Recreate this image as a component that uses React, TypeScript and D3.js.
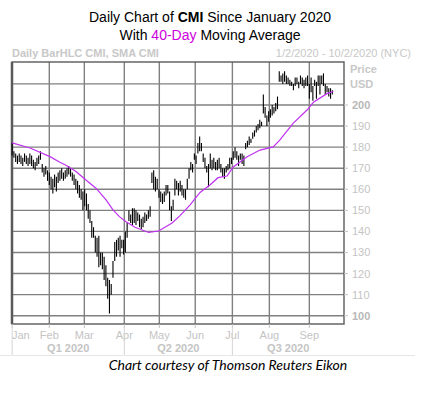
import { useEffect, useRef } from "react"
import * as d3 from "d3"

// high / low of each daily bar, trading-day index 0 = 1/2/2020
const highs = [
  182, 178, 177, 176, 177, 176, 175, 177, 176, 175, 177, 176, 174, 173, 175, 176, 178, 172, 170, 171,
  169, 168, 166, 165, 167, 166, 168, 169, 170, 168, 169, 170, 171, 170, 168, 167, 165, 164, 162, 160,
  159, 160, 158, 153, 150, 145, 142, 138, 137, 138, 130, 130, 128, 124, 118, 117, 115, 126, 135, 136,
  137, 138, 136, 136, 140, 144, 150, 148, 151, 151, 150, 149, 148, 146, 147, 149, 148, 150, 152, 168,
  169, 166, 165, 160, 159, 158, 159, 162, 162, 159, 152, 155, 165, 164, 163, 164, 162, 160, 160, 165,
  170, 173, 172, 177, 176, 182, 185, 182, 177, 175, 171, 172, 177, 174, 175, 173, 174, 175, 172, 170,
  170, 171, 172, 175, 175, 178, 180, 178, 176, 177, 177, 176, 182, 183, 185, 184, 187, 188, 190, 191,
  193, 192, 205, 199, 195, 197, 198, 200, 199, 201, 204, 216, 214, 215, 216, 214, 213, 212, 211, 210,
  213, 213, 211, 214, 213, 212, 213, 214, 210, 213, 209, 212, 211, 214, 214, 214, 215, 210, 209, 208,
  208, 207,
]
const lows = [
  176, 175, 173, 172, 173, 172, 171, 173, 172, 171, 172, 171, 170, 169, 171, 172, 174, 168, 166, 167,
  164, 162, 160, 158, 161, 159, 163, 164, 165, 164, 165, 166, 167, 166, 164, 162, 160, 158, 156, 155,
  150, 152, 150, 146, 144, 137, 137, 130, 128, 123, 124, 122, 117, 114, 108, 101, 110, 118, 126, 128,
  131, 128, 132, 129, 130, 137, 145, 144, 143, 144, 143, 145, 142, 141, 142, 144, 145, 146, 147, 163,
  160, 159, 160, 156, 154, 153, 154, 157, 158, 150, 145, 150, 157, 160, 157, 159, 157, 156, 155, 160,
  165, 169, 168, 174, 172, 177, 178, 178, 173, 170, 168, 161, 170, 169, 170, 169, 169, 170, 168, 166,
  165, 168, 169, 170, 172, 174, 175, 174, 171, 174, 172, 171, 179, 180, 181, 182, 184, 185, 187, 188,
  189, 190, 196, 194, 190, 192, 194, 195, 196, 197, 198, 211, 211, 210, 211, 210, 210, 209, 209, 207,
  209, 210, 208, 210, 209, 208, 209, 209, 203, 206, 202, 209, 203, 209, 205, 210, 209, 205, 206, 204,
  203, 205,
]

// 40-day SMA: [trading-day index, value]
const smaPoints: [number, number][] = [
  [0, 182], [10.1, 179.6], [21.4, 175.5], [27, 172.8], [30.4, 171.4], [36.1, 168.4], [41.7, 164.4],
  [47.4, 160.5], [53.1, 155], [56.8, 150.5], [60.6, 147], [64.4, 144.6], [69.4, 142], [77.2, 139.5],
  [82.8, 140.2], [90.4, 144], [94.9, 147.5], [100.5, 152.5], [106.2, 158.5], [111.8, 162],
  [116.4, 165.5], [121.5, 166.3], [124.8, 170.5], [132.6, 175.3], [140.1, 178.6], [147.6, 180.1],
  [151.4, 183.4], [158.8, 191.3], [166.7, 197.6], [170.3, 201.3], [178.2, 205.5], [181.6, 206.4],
]

const monthLabels = ["Jan", "Feb", "Mar", "Apr", "May", "Jun", "Jul", "Aug", "Sep"]
const monthTicks = [0, 21, 40.8, 63.4, 83.2, 103.5, 124.5, 145.4, 168]
const quarterLabels = ["Q1 2020", "Q2 2020", "Q3 2020"]
const quarterStarts = [0, 63.4, 124.5]
const priceTicks = [100, 110, 120, 130, 140, 150, 160, 170, 180, 190, 200, 210]
const boldTicks = [100, 200]

export default function App() {
  const svgRef = useRef<SVGSVGElement>(null)

  useEffect(() => {
    if (!svgRef.current) return
    const svg = d3.select(svgRef.current)
    svg.selectAll("*").remove()

    const left = 12
    const right = 344
    const top = 62
    const bottom = 324
    const axisGray = "#c4c4c4"
    const font = "'Liberation Sans', Arial, sans-serif"

    const x = d3.scaleLinear().domain([-0.085, 187.6]).range([left, right])
    const y = d3.scaleLinear().domain([96.06, 220.4]).range([bottom, top])

    // titles
    const t1 = svg.append("text").attr("x", 210).attr("y", 22).attr("text-anchor", "middle")
      .style("font-family", font).style("font-size", "14px").attr("fill", "#000")
    t1.append("tspan").text("Daily Chart of ")
    t1.append("tspan").attr("font-weight", "bold").text("CMI")
    t1.append("tspan").text(" Since January 2020")

    const t2 = svg.append("text").attr("x", 210).attr("y", 40).attr("text-anchor", "middle")
      .style("font-family", font).style("font-size", "14px").attr("fill", "#000")
    t2.append("tspan").text("With ")
    t2.append("tspan").attr("fill", "#cc00dd").text("40-Day")
    t2.append("tspan").text(" Moving Average")

    svg.append("text").attr("x", left).attr("y", 57)
      .style("font-family", font).style("font-size", "11px").style("font-weight", "bold")
      .attr("fill", "#c8c8c8").text("Daily BarHLC CMI, SMA CMI")
    svg.append("text").attr("x", 411).attr("y", 57).attr("text-anchor", "end")
      .style("font-family", font).style("font-size", "11px")
      .attr("fill", "#c8c8c8").text("1/2/2020 - 10/2/2020 (NYC)")

    // plot background
    svg.append("rect").attr("x", left).attr("y", top).attr("width", right - left).attr("height", bottom - top)
      .attr("fill", "#fff")

    // grid
    const grid = svg.append("g").attr("stroke", "#808080").attr("stroke-width", 1.4)
    grid.selectAll("line.h").data(priceTicks).enter().append("line")
      .attr("x1", left).attr("x2", right)
      .attr("y1", (d) => y(d)).attr("y2", (d) => y(d))
    grid.selectAll("line.v").data(monthTicks.slice(1)).enter().append("line")
      .attr("y1", top).attr("y2", bottom)
      .attr("x1", (d) => x(d)).attr("x2", (d) => x(d))

    // plot border
    svg.append("rect").attr("x", left).attr("y", top).attr("width", right - left).attr("height", bottom - top)
      .attr("fill", "none").attr("stroke", "#5a5a5a").attr("stroke-width", 1.4)
    svg.append("line").attr("x1", left).attr("x2", left).attr("y1", top).attr("y2", bottom)
      .attr("stroke", "#5a5a5a").attr("stroke-width", 2.5)

    // HL bars
    svg.append("g").selectAll("line").data(highs).enter().append("line")
      .attr("x1", (_, i) => x(i)).attr("x2", (_, i) => x(i))
      .attr("y1", (d) => y(d)).attr("y2", (_, i) => y(lows[i]))
      .attr("stroke", "#000").attr("stroke-width", 1.1)

    // SMA line
    const line = d3.line<[number, number]>().x((d) => x(d[0])).y((d) => y(d[1]))
    svg.append("path").datum(smaPoints).attr("d", line).attr("fill", "none")
      .attr("stroke", "#c030f0").attr("stroke-width", 1.2)

    // right price axis
    const ra = svg.append("g")
    ra.selectAll("line").data(priceTicks.filter((d) => d <= 200)).enter().append("line")
      .attr("x1", right).attr("x2", right + 4).attr("y1", (d) => y(d)).attr("y2", (d) => y(d))
      .attr("stroke", axisGray)
    ra.selectAll("text").data(priceTicks.filter((d) => d <= 200)).enter().append("text")
      .attr("x", 352).attr("y", (d) => y(d) + 4)
      .style("font-family", font).style("font-size", "11px")
      .style("font-weight", (d) => (boldTicks.includes(d) ? "bold" : "normal"))
      .attr("fill", (d) => (boldTicks.includes(d) ? "#b8b8b8" : axisGray))
      .text((d) => d)
    ra.append("text").attr("x", 350).attr("y", 73).style("font-family", font).style("font-size", "11px")
      .style("font-weight", "bold").attr("fill", "#c8c8c8").text("Price")
    ra.append("text").attr("x", 350).attr("y", 88).style("font-family", font).style("font-size", "11px")
      .style("font-weight", "bold").attr("fill", "#c8c8c8").text("USD")

    // bottom month axis
    const ba = svg.append("g")
    ba.selectAll("line").data(monthTicks).enter().append("line")
      .attr("x1", (d) => x(d)).attr("x2", (d) => x(d)).attr("y1", bottom).attr("y2", bottom + 4)
      .attr("stroke", axisGray)
    ba.selectAll("text").data(monthLabels).enter().append("text")
      .attr("x", (_, i) => (i === 0 ? left : x(monthTicks[i])))
      .attr("y", 339)
      .attr("text-anchor", (_, i) => (i === 0 ? "start" : "middle"))
      .style("font-family", font).style("font-size", "11px").attr("fill", axisGray)
      .text((d) => d)

    // quarters
    const quarterEnds = [...quarterStarts.slice(1), 187.6]
    ba.selectAll("line.q").data(quarterStarts).enter().append("line")
      .attr("x1", (d) => x(d)).attr("x2", (d) => x(d)).attr("y1", bottom + 3).attr("y2", 355)
      .attr("stroke", "#d4d4d4")
    ba.selectAll("text.q").data(quarterLabels).enter().append("text")
      .attr("x", (_, i) => (x(quarterStarts[i]) + x(quarterEnds[i])) / 2)
      .attr("y", 352).attr("text-anchor", "middle")
      .style("font-family", font).style("font-size", "11px").style("font-weight", "bold")
      .attr("fill", axisGray).text((d) => d)
    svg.append("line").attr("x1", 0).attr("x2", 415).attr("y1", 355.5).attr("y2", 355.5)
      .attr("stroke", "#e6e6e6")

    // caption
    svg.append("text").attr("x", 228).attr("y", 370).attr("text-anchor", "middle")
      .style("font-family", "Lato, 'Open Sans', sans-serif").style("font-size", "14px")
      .style("font-style", "italic").attr("fill", "#000")
      .text("Chart courtesy of Thomson Reuters Eikon")
  }, [])

  return (
    <svg
      ref={svgRef}
      width={426}
      height={394}
      style={{ position: "absolute", left: 0, top: 0, background: "#fff" }}
    />
  )
}
